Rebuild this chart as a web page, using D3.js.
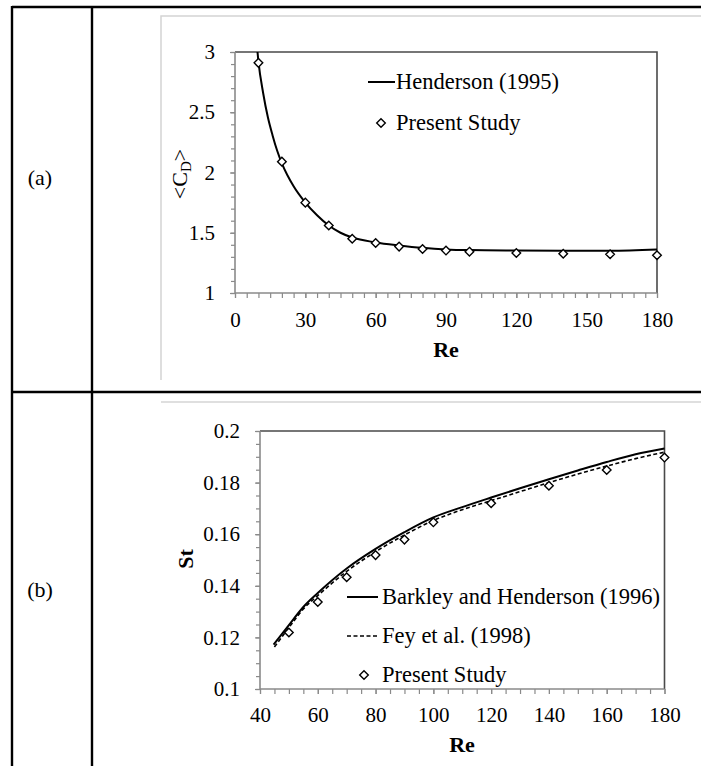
<!DOCTYPE html>
<html>
<head>
<meta charset="utf-8">
<script src="https://cdn.jsdelivr.net/npm/d3@7"></script>
<style>
body { margin: 0; background: #fff; }
text { font-family: "Liberation Serif", "Times New Roman", serif; fill: #000; }
</style>
</head>
<body>
<div id="chart"></div>
<script>
// Datos (a): coeficiente de arrastre medio
const reCdPresent = [10, 20, 30, 40, 50, 60, 70, 80, 90, 100, 120, 140, 160, 180];
const cdPresent = [2.91, 2.09, 1.75, 1.56, 1.45, 1.415, 1.385, 1.365, 1.352, 1.343, 1.332, 1.326, 1.321, 1.313];
const reHenderson = [9.5, 10, 12, 14, 16, 18, 20, 25, 30, 35, 40, 45, 50, 60, 70, 80, 90, 100, 120, 140, 160, 180];
const cdHenderson = [3.02, 2.92, 2.66, 2.46, 2.31, 2.18, 2.075, 1.885, 1.75, 1.645, 1.56, 1.5, 1.46, 1.42, 1.395, 1.375, 1.362, 1.356, 1.352, 1.35, 1.35, 1.36];
const cdTicks = [1, 1.5, 2, 2.5, 3];
const reTicksA = [0, 30, 60, 90, 120, 150, 180];

// Datos (b): numero de Strouhal
const reStPresent = [50, 60, 70, 80, 90, 100, 120, 140, 160, 180];
const stPresent = [0.1219, 0.1337, 0.1433, 0.1519, 0.1579, 0.1646, 0.172, 0.1788, 0.1849, 0.1897];
const reBarkley = [44.7, 50, 55, 60, 70, 80, 90, 100, 110, 120, 130, 140, 150, 160, 170, 180];
const stBarkley = [0.1172, 0.1248, 0.1318, 0.1372, 0.1467, 0.1543, 0.1608, 0.1665, 0.1705, 0.1742, 0.1778, 0.1813, 0.1847, 0.188, 0.191, 0.1932];
const reFey = [45, 50, 55, 60, 70, 80, 90, 100, 110, 120, 130, 140, 150, 160, 170, 180];
const stFey = [0.1163, 0.1238, 0.131, 0.1362, 0.1456, 0.1532, 0.1597, 0.1653, 0.1695, 0.173, 0.1765, 0.18, 0.1833, 0.1864, 0.1893, 0.1918];
const stTicks = [0.1, 0.12, 0.14, 0.16, 0.18, 0.2];
const reTicksB = [40, 60, 80, 100, 120, 140, 160, 180];

const WIDTH = 701;
const HEIGHT = 766;

const PLOT_A = { left: 235, right: 657, top: 52, bottom: 293 };
const PLOT_B = { left: 260, right: 664.5, top: 431, bottom: 689 };

const svg = d3.select("#chart")
    .append("svg")
    .attr("width", WIDTH)
    .attr("height", HEIGHT);

// tabla
const tabla = svg.append("g").attr("stroke", "#000").attr("stroke-width", 2.4);
tabla.append("line").attr("x1", 12).attr("x2", WIDTH).attr("y1", 7).attr("y2", 7);
tabla.append("line").attr("x1", 12).attr("x2", WIDTH).attr("y1", 392).attr("y2", 392);
tabla.append("line").attr("x1", 12).attr("x2", 12).attr("y1", 6).attr("y2", HEIGHT);
tabla.append("line").attr("x1", 92).attr("x2", 92).attr("y1", 6).attr("y2", HEIGHT);

// marcos grises de los graficos
const marcos = svg.append("g").attr("stroke", "#d4d4d4").attr("stroke-width", 1.5).attr("fill", "none");
marcos.append("path").attr("d", `M${WIDTH},16 H161 V380`);
marcos.append("path").attr("d", `M161,402 H${WIDTH}`);

svg.append("text").attr("x", 40).attr("y", 185).attr("font-size", 22)
    .attr("text-anchor", "middle").text("(a)");
svg.append("text").attr("x", 40).attr("y", 597).attr("font-size", 22)
    .attr("text-anchor", "middle").text("(b)");

function diamond(g, cx, cy) {
    g.append("path")
        .attr("d", `M${cx},${cy - 4.3} L${cx + 4.3},${cy} L${cx},${cy + 4.3} L${cx - 4.3},${cy} Z`)
        .attr("fill", "#fff")
        .attr("stroke", "#000")
        .attr("stroke-width", 1.4);
}

function minorRange(a, b, step) {
    return d3.range(Math.round((b - a) / step) + 1).map(i => a + i * step);
}

function ejes(g, plot, x, y, xTicks, xMinor, yTicks, yMinor, xPad) {
    g.append("g")
        .attr("transform", `translate(0, ${plot.bottom})`)
        .call(d3.axisBottom(x).tickValues(xMinor).tickSize(5).tickFormat(""))
        .call(a => a.select(".domain").remove())
        .call(a => a.selectAll("line").attr("stroke", "#8a8a8a").attr("stroke-width", 1.2));
    g.append("g")
        .attr("transform", `translate(0, ${plot.bottom})`)
        .call(d3.axisBottom(x).tickValues(xTicks).tickSize(5).tickPadding(xPad).tickFormat(d => d))
        .call(a => a.select(".domain").remove())
        .call(a => a.selectAll("line").attr("stroke", "#8a8a8a").attr("stroke-width", 1.2))
        .call(a => a.selectAll("text").attr("font-size", 21).attr("fill", "#000")
            .style("font-family", "Liberation Serif, serif"));

    g.append("g")
        .attr("transform", `translate(${plot.left}, 0)`)
        .call(d3.axisLeft(y).tickValues(yMinor).tickSize(4).tickFormat(""))
        .call(a => a.select(".domain").remove())
        .call(a => a.selectAll("line").attr("stroke", "#8a8a8a").attr("stroke-width", 1.2));
    g.append("g")
        .attr("transform", `translate(${plot.left}, 0)`)
        .call(d3.axisLeft(y).tickValues(yTicks).tickSize(5).tickPadding(15).tickFormat(d => d))
        .call(a => a.select(".domain").remove())
        .call(a => a.selectAll("line").attr("stroke", "#8a8a8a").attr("stroke-width", 1.2))
        .call(a => a.selectAll("text").attr("font-size", 21).attr("fill", "#000")
            .style("font-family", "Liberation Serif, serif"));

    // marco del area de trazado
    g.append("path")
        .attr("d", `M${plot.left},${plot.top} H${plot.right} V${plot.bottom}`)
        .attr("fill", "none").attr("stroke", "#4a4a4a").attr("stroke-width", 1.6);
    g.append("path")
        .attr("d", `M${plot.left},${plot.top} V${plot.bottom} H${plot.right}`)
        .attr("fill", "none").attr("stroke", "#8a8a8a").attr("stroke-width", 1.6);
}

// GRAFICO (a)
const xA = d3.scaleLinear().domain([0, 180]).range([PLOT_A.left, PLOT_A.right]);
const yA = d3.scaleLinear().domain([1, 3]).range([PLOT_A.bottom, PLOT_A.top]);
const gA = svg.append("g");

svg.append("clipPath").attr("id", "clipA").append("rect")
    .attr("x", PLOT_A.left).attr("y", PLOT_A.top)
    .attr("width", PLOT_A.right - PLOT_A.left).attr("height", PLOT_A.bottom - PLOT_A.top);

ejes(gA, PLOT_A, xA, yA, reTicksA, minorRange(0, 180, 5), cdTicks, minorRange(1, 3, 0.1), 14);

const lineaA = d3.line().x(d => xA(d[0])).y(d => yA(d[1])).curve(d3.curveMonotoneX);
gA.append("path")
    .datum(reHenderson.map((r, i) => [r, cdHenderson[i]]))
    .attr("clip-path", "url(#clipA)")
    .attr("d", lineaA)
    .attr("fill", "none").attr("stroke", "#000").attr("stroke-width", 2);

reCdPresent.forEach((r, i) => diamond(gA, xA(r), yA(cdPresent[i])));

gA.append("text").attr("x", 446).attr("y", 357)
    .attr("text-anchor", "middle").attr("font-size", 22).attr("font-weight", "bold").text("Re");
const labelCd = gA.append("text")
    .attr("transform", "translate(187, 174) rotate(-90)")
    .attr("text-anchor", "middle").attr("font-size", 22);
labelCd.append("tspan").text("<C");
labelCd.append("tspan").attr("font-size", 15).attr("dy", 4).text("D");
labelCd.append("tspan").attr("dy", -4).text(">");

// leyenda (a)
gA.append("line").attr("x1", 368).attr("x2", 395).attr("y1", 82).attr("y2", 82)
    .attr("stroke", "#000").attr("stroke-width", 2);
gA.append("text").attr("x", 396).attr("y", 89).attr("font-size", 22.5).text("Henderson (1995)");
diamond(gA, 381, 123);
gA.append("text").attr("x", 396).attr("y", 130).attr("font-size", 22.5).text("Present Study");

// GRAFICO (b)
const xB = d3.scaleLinear().domain([40, 180]).range([PLOT_B.left, PLOT_B.right]);
const yB = d3.scaleLinear().domain([0.1, 0.2]).range([PLOT_B.bottom, PLOT_B.top]);
const gB = svg.append("g");

ejes(gB, PLOT_B, xB, yB, reTicksB, minorRange(40, 180, 5), stTicks, minorRange(0.1, 0.2, 0.005), 13);

const lineaB = d3.line().x(d => xB(d[0])).y(d => yB(d[1])).curve(d3.curveMonotoneX);
gB.append("path")
    .datum(reFey.map((r, i) => [r, stFey[i]]))
    .attr("d", lineaB)
    .attr("fill", "none").attr("stroke", "#000").attr("stroke-width", 1.6)
    .attr("stroke-dasharray", "4,2.5");
gB.append("path")
    .datum(reBarkley.map((r, i) => [r, stBarkley[i]]))
    .attr("d", lineaB)
    .attr("fill", "none").attr("stroke", "#000").attr("stroke-width", 2);

reStPresent.forEach((r, i) => diamond(gB, xB(r), yB(stPresent[i])));

gB.append("text").attr("x", 462).attr("y", 752)
    .attr("text-anchor", "middle").attr("font-size", 22).attr("font-weight", "bold").text("Re");
gB.append("text")
    .attr("transform", "translate(193, 559) rotate(-90)")
    .attr("text-anchor", "middle").attr("font-size", 22).attr("font-weight", "bold").text("St");

// leyenda (b)
gB.append("line").attr("x1", 347).attr("x2", 378).attr("y1", 597).attr("y2", 597)
    .attr("stroke", "#000").attr("stroke-width", 2);
gB.append("text").attr("x", 382).attr("y", 604).attr("font-size", 22.5).text("Barkley and Henderson (1996)");
gB.append("line").attr("x1", 347).attr("x2", 378).attr("y1", 636).attr("y2", 636)
    .attr("stroke", "#000").attr("stroke-width", 1.6).attr("stroke-dasharray", "4,2.5");
gB.append("text").attr("x", 382).attr("y", 643).attr("font-size", 22.5).text("Fey et al. (1998)");
diamond(gB, 364, 675);
gB.append("text").attr("x", 382).attr("y", 682).attr("font-size", 22.5).text("Present Study");
</script>
</body>
</html>
